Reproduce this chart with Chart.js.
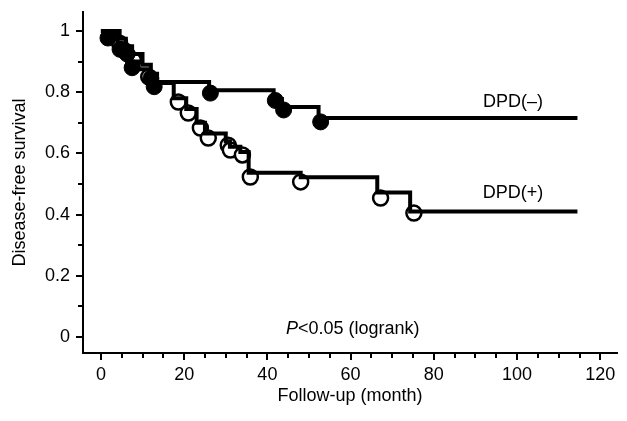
<!DOCTYPE html>
<html>
<head>
<meta charset="utf-8">
<script src="https://cdn.jsdelivr.net/npm/chart.js@4.4.1/dist/chart.umd.min.js"></script>
<style>
  html, body { margin: 0; padding: 0; background: #fff; }
</style>
</head>
<body>
<canvas id="km" width="627" height="421"></canvas>
<script>
// Kaplan-Meier steps: month -> disease-free proportion
const negMonths = [0, 1.5, 4, 6, 7, 9, 11.5, 12.5, 26, 41.5, 43.5, 52.3, 114.5];
const negSurv   = [1, 0.99, 0.96, 0.945, 0.9, 0.875, 0.855, 0.833, 0.806, 0.778, 0.752, 0.716, 0.716];
const posMonths = [0, 4.5, 6, 7.5, 10, 12, 13.5, 17.5, 20.5, 23, 25, 30, 31, 33.5, 35.5, 48, 66.4, 74.3, 114.5];
const posSurv   = [1, 0.975, 0.95, 0.925, 0.89, 0.86, 0.83, 0.78, 0.745, 0.7, 0.665, 0.64, 0.622, 0.605, 0.537, 0.522, 0.472, 0.41, 0.41];

// censored marks (filled = DPD(-), open = DPD(+))
const negCensMonths = [1.7, 4.6, 6.3, 7.5, 12, 12.8, 26.3, 41.9, 43.9, 52.8];
const negCensSurv   = [0.977, 0.94, 0.925, 0.88, 0.845, 0.818, 0.797, 0.773, 0.742, 0.703];
const posCensMonths = [4.5, 5.8, 7.8, 11.5, 18.6, 21, 23.9, 25.8, 30.6, 31.1, 34, 35.9, 48, 67.2, 75.2];
const posCensSurv   = [0.96, 0.935, 0.905, 0.85, 0.768, 0.732, 0.683, 0.65, 0.627, 0.611, 0.595, 0.523, 0.507, 0.454, 0.405];

const xTicks = [0, 20, 40, 60, 80, 100, 120];
const yTicks = [0, 0.2, 0.4, 0.6, 0.8, 1];

const FONT = "'Liberation Sans', Arial, sans-serif";
const SIZE = 18;
const pts = (xs, ys) => xs.map((x, i) => ({ x, y: ys[i] }));

// axis minor/major tick marks + text labels inside the plot
const extras = {
  id: 'extras',
  afterDraw(chart) {
    const { ctx, chartArea: a, scales: { x, y } } = chart;
    ctx.save();
    ctx.strokeStyle = '#000';
    ctx.lineWidth = 2;
    ctx.beginPath();
    for (let v = 0; v <= 1.0001; v += 0.1) {
      const py = Math.round(y.getPixelForValue(v));
      const major = Math.round(v * 10) % 2 === 0;
      ctx.moveTo(a.left, py);
      ctx.lineTo(a.left - (major ? 7 : 5), py);
    }
    for (let m = 0; m <= 120; m += 5) {
      const px = Math.round(x.getPixelForValue(m));
      ctx.moveTo(px, a.bottom);
      ctx.lineTo(px, a.bottom + (m % 20 === 0 ? 7 : 5));
    }
    ctx.stroke();

    ctx.fillStyle = '#000';
    ctx.textAlign = 'center';
    ctx.textBaseline = 'middle';
    ctx.font = `${SIZE}px ${FONT}`;
    ctx.fillText('DPD(\u2013)', x.getPixelForValue(99), y.getPixelForValue(0.768));
    ctx.fillText('DPD(+)', x.getPixelForValue(99), y.getPixelForValue(0.47));

    // P<0.05 (logrank) with italic P
    const cx = x.getPixelForValue(60.5), cy = y.getPixelForValue(0.026);
    ctx.font = `italic ${SIZE}px ${FONT}`;
    const wP = ctx.measureText('P').width;
    ctx.font = `${SIZE}px ${FONT}`;
    const rest = '<0.05 (logrank)';
    const wR = ctx.measureText(rest).width;
    const x0 = cx - (wP + wR) / 2;
    ctx.textAlign = 'left';
    ctx.font = `italic ${SIZE}px ${FONT}`;
    ctx.fillText('P', x0, cy);
    ctx.font = `${SIZE}px ${FONT}`;
    ctx.fillText(rest, x0 + wP, cy);
    ctx.restore();
  }
};

new Chart(document.getElementById('km'), {
  type: 'scatter',
  data: {
    datasets: [
      { label: 'DPD(-)', data: pts(negMonths, negSurv), showLine: true, stepped: true,
        borderColor: '#000', borderWidth: 4, pointRadius: 0, fill: false },
      { label: 'DPD(+)', data: pts(posMonths, posSurv), showLine: true, stepped: true,
        borderColor: '#000', borderWidth: 4, pointRadius: 0, fill: false },
      { label: 'censored DPD(-)', data: pts(negCensMonths, negCensSurv), showLine: false,
        pointRadius: 8, pointBackgroundColor: '#000', pointBorderColor: '#000', pointBorderWidth: 1 },
      { label: 'censored DPD(+)', data: pts(posCensMonths, posCensSurv), showLine: false,
        pointRadius: 7.5, pointBackgroundColor: '#fff', pointBorderColor: '#000', pointBorderWidth: 2.5 }
    ]
  },
  options: {
    responsive: false,
    devicePixelRatio: 1,
    animation: false,
    layout: { padding: { left: 0, top: 12, right: 10, bottom: 0 } },
    plugins: { legend: { display: false }, tooltip: { enabled: false } },
    scales: {
      x: {
        type: 'linear', min: -4.3, max: 124,
        afterFit: s => { s.height = 68; },
        afterBuildTicks: s => { s.ticks = xTicks.map(v => ({ value: v })); },
        grid: { display: false, drawTicks: false },
        border: { display: true, color: '#000', width: 2 },
        ticks: { color: '#000', padding: 11, font: { family: FONT, size: SIZE }, callback: v => String(v) },
        title: { display: true, text: 'Follow-up (month)', color: '#000',
                 font: { family: FONT, size: SIZE }, padding: { top: 14, bottom: 14 } }
      },
      y: {
        type: 'linear', min: -0.052, max: 1.062,
        afterFit: s => { s.width = 83; s.paddingTop = 0; s.paddingBottom = 0; },
        afterBuildTicks: s => { s.ticks = yTicks.map(v => ({ value: v })); },
        grid: { display: false, drawTicks: false },
        border: { display: true, color: '#000', width: 2 },
        ticks: { color: '#000', padding: 13, font: { family: FONT, size: SIZE }, callback: v => String(v) },
        title: { display: true, text: 'Disease-free survival', color: '#000',
                 font: { family: FONT, size: SIZE }, padding: { top: 9, bottom: 9 } }
      }
    }
  },
  plugins: [extras]
});
</script>
</body>
</html>
